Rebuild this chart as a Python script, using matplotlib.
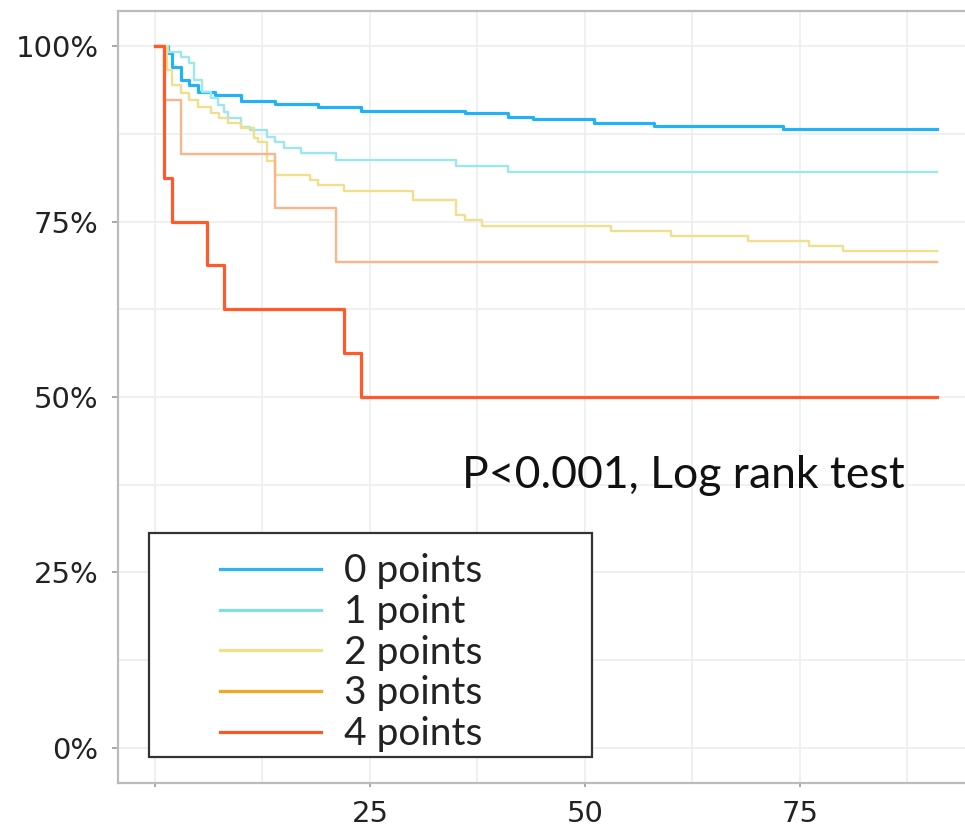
import matplotlib
matplotlib.use("Agg")
import matplotlib.pyplot as plt
from matplotlib.lines import Line2D
from matplotlib.patches import Rectangle
from matplotlib.ticker import FuncFormatter, MultipleLocator

# Kaplan-Meier step data (days, survival %)
END_DAY = 91

t0 = [0, 1.5, 2, 3, 4, 5, 7, 10, 14, 19, 24, 36, 41, 44, 51, 58, 73]
s0 = [100, 99.0, 97.0, 95.2, 94.4, 93.4, 93.0, 92.2, 91.7, 91.3, 90.7, 90.5, 89.9, 89.6, 89.0, 88.6, 88.2]

t1 = [0, 1.5, 3, 4, 4.5, 5.5, 6.5, 7.3, 8, 8.5, 10, 11, 13, 14, 15, 17, 21, 35, 41]
s1 = [100, 99.1, 98.4, 97.6, 95.2, 93.4, 92.6, 91.6, 90.6, 89.7, 88.5, 88.0, 87.0, 86.3, 85.5, 84.8, 83.8, 82.9, 82.1]

t2 = [0, 1.4, 2, 3, 4, 5, 6.5, 7.5, 8.5, 10, 11.5, 12, 13, 14, 18, 19, 22, 30, 35, 36, 38, 53, 60, 69, 76, 80]
s2 = [100, 96.6, 94.4, 93.3, 92.3, 91.3, 90.4, 89.7, 89.0, 88.3, 86.9, 86.3, 83.6, 81.6, 80.9, 80.2, 79.3, 78.1,
      75.9, 75.2, 74.4, 73.6, 72.9, 72.2, 71.5, 70.8]

t3 = [0, 1, 3, 14, 21]
s3 = [100, 92.3, 84.6, 76.9, 69.2]

t4 = [0, 1, 2, 6, 8, 22, 24]
s4 = [100, 81.25, 75.0, 68.75, 62.5, 56.25, 50.0]

labels = ["0 points", "1 point", "2 points", "3 points", "4 points"]
line_colors = ["#22B2F5", "#9EE6EE", "#F0DF8C", "#F8B68A", "#FF5A2B"]
legend_colors = ["#29B6F6", "#80DEEA", "#F0E08C", "#F5A623", "#FF5722"]
line_widths = [2.3, 1.7, 1.7, 1.7, 2.3]

x_ticks = [0, 25, 50, 75]
x_tick_labels = ["", "25", "50", "75"]
y_ticks = [0, 25, 50, 75, 100]

fig = plt.figure(figsize=(9.65, 8.35), dpi=100)
ax = fig.add_axes([0.1223, 0.0623, 0.8777, 0.9245])

series = [(t0, s0), (t1, s1), (t2, s2), (t3, s3), (t4, s4)]
for (t, s), c, lw in zip(series, line_colors, line_widths):
    ax.step(list(t) + [END_DAY], list(s) + [s[-1]], where="post", color=c, lw=lw, zorder=3)

ax.set_xlim(-4.3, 94.2)
ax.set_ylim(-5, 105)

ax.xaxis.set_minor_locator(MultipleLocator(12.5))
ax.yaxis.set_minor_locator(MultipleLocator(12.5))
ax.set_xticks(x_ticks)
ax.set_xticklabels(x_tick_labels)
ax.set_yticks(y_ticks)
ax.yaxis.set_major_formatter(FuncFormatter(lambda v, p: f"{v:.0f}%"))
ax.grid(True, which="both", color="#EEEEEE", lw=1.2, zorder=0)
ax.set_axisbelow(True)

ax.tick_params(axis="y", which="major", labelsize=21, length=4, width=1.2, color="#999999",
               pad=10, labelcolor="#222222")
ax.tick_params(axis="x", which="major", labelsize=21, length=3, width=1.2, color="#999999",
               pad=9, labelcolor="#222222")
ax.tick_params(which="minor", length=0)
for sp in ["left", "top", "bottom"]:
    ax.spines[sp].set_color("#BBBBBB")
    ax.spines[sp].set_linewidth(1.6)
ax.spines["right"].set_visible(False)

# legend box
ax.add_patch(Rectangle((0.0366, 0.0337), 0.523, 0.290, transform=ax.transAxes,
                       facecolor="white", edgecolor="#333333", lw=1.6, zorder=4))
handles = [Line2D([], [], color=c, lw=2.3) for c in legend_colors]
leg = ax.legend(handles, labels, loc="upper left", bbox_to_anchor=(0.1199, 0.2973),
                frameon=False, borderpad=0, borderaxespad=0,
                handlelength=2.62, handletextpad=0.57, labelspacing=0.12,
                prop={"family": "Lato", "size": 28})
leg.set_zorder(5)
for txt in leg.get_texts():
    txt.set_color("#222222")

ax.text(0.406, 0.3977, "P<0.001, Log rank test", transform=ax.transAxes, ha="left", va="center",
        fontsize=32, family="Lato", color="#111111", zorder=6)

fig.savefig("out.png", dpi=100)
